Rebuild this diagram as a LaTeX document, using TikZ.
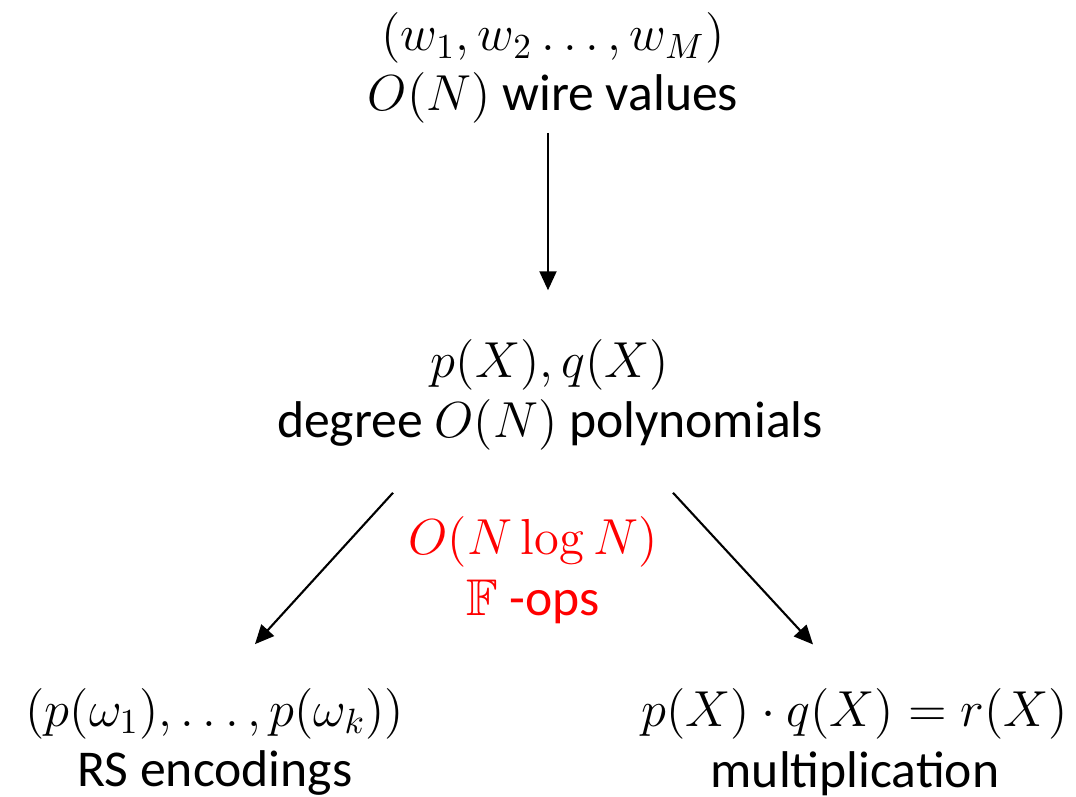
\documentclass[tikz,border=0pt]{standalone}
\usepackage{amsmath, amssymb}
\usepackage[no-math]{fontspec}
\setmainfont{Carlito}
\usepackage{xcolor}
\usetikzlibrary{arrows.meta, positioning}
\definecolor{costred}{RGB}{255, 0, 0}

\begin{document}
\begin{tikzpicture}[
    lbl/.style={align=center, inner sep=1pt, font=\fontsize{14.7}{17.2}\selectfont},
    arr/.style={-{Triangle[length=0.19cm, width=0.17cm]}, line width=0.6pt}
  ]
  \useasboundingbox (0,0) rectangle (10.76,-7.96);
  \node[lbl] (wires) at (5.53,-0.68) {$(w_1, w_2 \ldots, w_M)$\\$O(N)$ wire values};
  \node[lbl] (poly) at (5.50,-3.95) {$p(X), q(X)$\\degree $O(N)$ polynomials};
  \node[lbl, costred] (cost) at (5.33,-5.70) {$O(N\log N)$\\$\mathbb{F}$ -ops};
  \node[lbl] (rs) at (2.15,-7.42) {$(p(\omega_1), \ldots, p(\omega_k))$\\RS encodings};
  \node[lbl] (mult) at (8.55,-7.42) {$p(X)\cdot q(X) = r(X)$\\multiplication};
  % arrows
  \draw[arr] ([xshift=-0.05cm, yshift=-0.05cm]wires.south) -- ([xshift=-0.02cm, yshift=0.45cm]poly.north);
  \draw[arr] ([xshift=-1.57cm, yshift=-0.38cm]poly.south) -- ([xshift=0.4cm, yshift=0.4cm]rs.north);
  \draw[arr] ([xshift=1.23cm, yshift=-0.38cm]poly.south) -- ([xshift=-0.42cm, yshift=0.4cm]mult.north);
\end{tikzpicture}
\end{document}
